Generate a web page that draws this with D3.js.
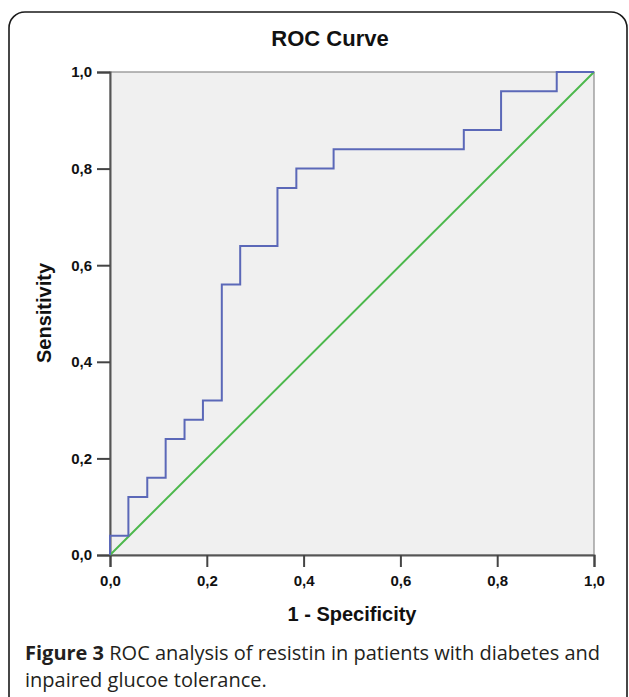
<!DOCTYPE html>
<html>
<head>
<meta charset="utf-8">
<script src="https://cdn.jsdelivr.net/npm/d3@7"></script>
<style>
  body { margin: 0; background: #fff; }
  svg { display: block; }
</style>
</head>
<body>
<svg id="chart" width="629" height="697"></svg>
<script>
(function() {
	'use strict';

	// ROC corner points (1 - specificity, sensitivity)
	var fpr = [0, 0, 0.038, 0.038, 0.077, 0.077, 0.115, 0.115, 0.154, 0.154, 0.192, 0.192,
		0.231, 0.231, 0.269, 0.269, 0.346, 0.346, 0.385, 0.385, 0.462, 0.462,
		0.731, 0.731, 0.808, 0.808, 0.923, 0.923, 1];
	var tpr = [0, 0.04, 0.04, 0.12, 0.12, 0.16, 0.16, 0.24, 0.24, 0.28, 0.28, 0.32,
		0.32, 0.56, 0.56, 0.64, 0.64, 0.76, 0.76, 0.80, 0.80, 0.84,
		0.84, 0.88, 0.88, 0.96, 0.96, 1, 1];
	var refLine = [0, 1];
	var ticks = [0, 0.2, 0.4, 0.6, 0.8, 1.0];

	var fontAxis = '"Liberation Sans", Arial, sans-serif';
	var fontCaption = '"Open Sans", "Noto Sans", sans-serif';

	var svg = d3.select('#chart');
	var x = d3.scaleLinear().domain([0, 1]).range([110, 594]);
	var y = d3.scaleLinear().domain([0, 1]).range([555, 72]);
	var fmt = function(d) { return d3.format('.1f')(d).replace('.', ','); };

	// outer frame, bottom runs off the page
	svg.append('rect')
		.attr('x', 9).attr('y', 12)
		.attr('width', 618).attr('height', 720)
		.attr('rx', 16).attr('ry', 16)
		.attr('fill', 'none')
		.attr('stroke', '#1a1a1a')
		.attr('stroke-width', 1.6);

	svg.append('text')
		.attr('x', 330).attr('y', 46)
		.attr('text-anchor', 'middle')
		.attr('font-family', fontAxis)
		.attr('font-weight', 'bold')
		.attr('font-size', 22)
		.attr('fill', '#111')
		.text('ROC Curve');

	svg.append('rect')
		.attr('x', x(0)).attr('y', y(1))
		.attr('width', x(1) - x(0)).attr('height', y(0) - y(1))
		.attr('fill', '#f0f0f0')
		.attr('stroke', '#8a8a8a')
		.attr('stroke-width', 1.2);

	var yAxis = svg.append('g')
		.attr('transform', 'translate(' + x(0) + ',0)')
		.call(d3.axisLeft(y).tickValues(ticks).tickFormat(fmt).tickSize(13).tickPadding(5));
	var xAxis = svg.append('g')
		.attr('transform', 'translate(0,' + y(0) + ')')
		.call(d3.axisBottom(x).tickValues(ticks).tickFormat(fmt).tickSize(12).tickPadding(8));

	[yAxis, xAxis].forEach(function(g) {
		g.select('.domain').attr('stroke', '#555').attr('stroke-width', 2);
		g.selectAll('.tick line').attr('stroke', '#444').attr('stroke-width', 2);
		g.selectAll('.tick text')
			.attr('font-family', fontAxis)
			.attr('font-weight', 'bold')
			.attr('font-size', 15)
			.attr('fill', '#111');
	});

	var line = d3.line()
		.x(function(d) { return x(d[0]); })
		.y(function(d) { return y(d[1]); });

	svg.append('path')
		.datum(refLine.map(function(v) { return [v, v]; }))
		.attr('d', line)
		.attr('fill', 'none')
		.attr('stroke', '#4cb84c')
		.attr('stroke-width', 2);

	svg.append('path')
		.datum(fpr.map(function(v, i) { return [v, tpr[i]]; }))
		.attr('d', line)
		.attr('fill', 'none')
		.attr('stroke', '#5b68b8')
		.attr('stroke-width', 2);

	svg.append('text')
		.attr('x', 352).attr('y', 621)
		.attr('text-anchor', 'middle')
		.attr('font-family', fontAxis)
		.attr('font-weight', 'bold')
		.attr('font-size', 20)
		.attr('fill', '#111')
		.text('1 - Specificity');

	svg.append('text')
		.attr('transform', 'translate(51,313) rotate(-90)')
		.attr('text-anchor', 'middle')
		.attr('font-family', fontAxis)
		.attr('font-weight', 'bold')
		.attr('font-size', 20)
		.attr('fill', '#111')
		.text('Sensitivity');

	var cap = svg.append('text')
		.attr('font-family', fontCaption)
		.attr('font-size', 20)
		.attr('fill', '#231f20');
	var l1 = cap.append('tspan').attr('x', 25).attr('y', 660);
	l1.append('tspan').attr('font-weight', 'bold').text('Figure 3');
	l1.append('tspan').text(' ROC analysis of resistin in patients with diabetes and');
	cap.append('tspan').attr('x', 25).attr('y', 687).text('inpaired glucoe tolerance.');
})();
</script>
</body>
</html>
